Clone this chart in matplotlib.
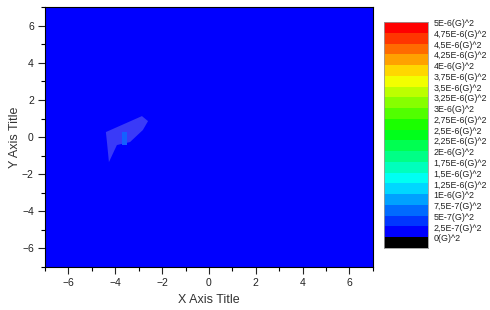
import numpy as np
import matplotlib
matplotlib.use("Agg")
import matplotlib.pyplot as plt
import colorsys

plt.rcParams['font.family'] = ['Liberation Sans', 'DejaVu Sans']

# Data
x_range = [-7, 7]
y_range = [-7, 7]
x_ticks = [-6, -4, -2, 0, 2, 4, 6]
y_ticks = [-6, -4, -2, 0, 2, 4, 6]
background_value_color = '#0000ff'
blob_x = [-4.40, -2.86, -2.60, -2.82, -3.37, -3.93, -4.27, -4.35]
blob_y = [0.27, 1.13, 0.86, 0.38, -0.27, -0.43, -1.35, -0.32]
core_x = [-3.71, -3.50, -3.50, -3.71]
core_y = [0.27, 0.27, -0.43, -0.43]
blob_color = '#3a3af8'
core_color = '#1460ff'
level_labels = ['0(G)^2', '2,5E-7(G)^2', '5E-7(G)^2', '7,5E-7(G)^2', '1E-6(G)^2',
                '1,25E-6(G)^2', '1,5E-6(G)^2', '1,75E-6(G)^2', '2E-6(G)^2',
                '2,25E-6(G)^2', '2,5E-6(G)^2', '2,75E-6(G)^2', '3E-6(G)^2',
                '3,25E-6(G)^2', '3,5E-6(G)^2', '3,75E-6(G)^2', '4E-6(G)^2',
                '4,25E-6(G)^2', '4,5E-6(G)^2', '4,75E-6(G)^2', '5E-6(G)^2']

# palette: black then hue 240 -> 0
n_col = len(level_labels) - 1
band_colors = ['#000000']
for i in range(n_col):
    h = (240 - 240 * i / (n_col - 1)) / 360.0
    band_colors.append(colorsys.hsv_to_rgb(h, 1, 1))

fig = plt.figure(figsize=(4.9, 3.1), dpi=100)
ax = fig.add_axes([0.0918, 0.1387, 0.761 - 0.0918, 0.977 - 0.1387])
ax.set_facecolor(background_value_color)
ax.fill(blob_x, blob_y, color=blob_color, lw=0)
ax.fill(core_x, core_y, color=core_color, lw=0)
ax.set_xlim(x_range)
ax.set_ylim(y_range)
ax.set_xticks(x_ticks)
ax.set_yticks(y_ticks)
ax.set_xticks(np.arange(-7, 8, 1), minor=True)
ax.set_yticks(np.arange(-7, 8, 1), minor=True)
ax.tick_params(which='major', direction='out', length=5, width=0.8, labelsize=7.5,
               colors='#222222', pad=3)
ax.tick_params(which='minor', direction='out', length=3, width=0.8)
for s in ax.spines.values():
    s.set_linewidth(0.8)
ax.set_xlabel('X Axis Title', fontsize=9, color='#333333', labelpad=4)
ax.set_ylabel('Y Axis Title', fontsize=9, color='#333333')
ax.yaxis.set_label_coords(-0.072, 0.5)

# legend color bands
cax = fig.add_axes([384 / 490, (310 - 248) / 310, 44 / 490, 226 / 310])
n = len(level_labels)
cax.bar([0.5] * n, [1] * n, width=1, bottom=np.arange(n), color=band_colors, lw=0)
cax.set_xlim(0, 1)
cax.set_ylim(0, n)
cax.set_xticks([])
cax.set_yticks([])
for s in cax.spines.values():
    s.set_color('#999999')
    s.set_linewidth(0.6)
for i, lab in enumerate(level_labels):
    cax.text(1.12, i + 0.85, lab, fontsize=6.4, va='center', ha='left',
             color='#222222', transform=cax.transData, clip_on=False)

fig.savefig('out.png', dpi=100)
